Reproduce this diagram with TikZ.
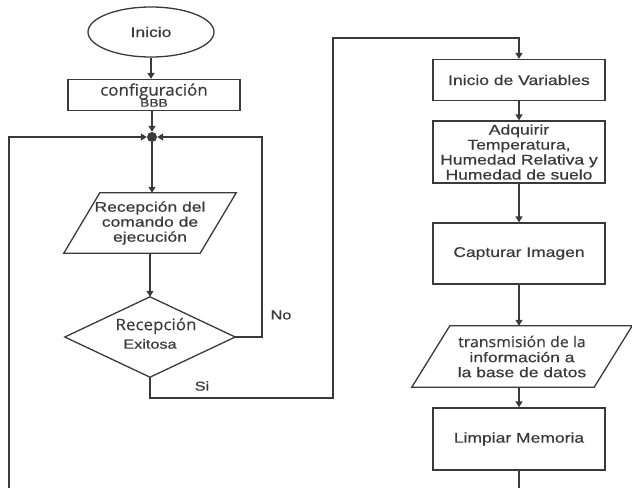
\documentclass[tikz,border=0pt]{standalone}
\usepackage{fontspec}
\setmainfont{Liberation Sans}[FakeStretch=1.25,FakeBold=0.6]
\newfontfamily\osans{Open Sans}[FakeStretch=1.06,FakeBold=0.3]
\usetikzlibrary{arrows.meta,calc,shapes.geometric}
\definecolor{ln}{HTML}{3A3A3A}
\definecolor{tx}{HTML}{3A3A3A}
\begin{document}
\begin{tikzpicture}[x=1pt,y=-1pt,
  every node/.style={text=tx, align=center, font=\fontsize{14}{15}\selectfont},
  boxn/.style={draw=ln, line width=1.3pt, minimum width=172pt, inner sep=0pt},
  ghost/.style={inner sep=0pt},
  wire/.style={draw=ln, line width=1.3pt},
  arr/.style={wire, -{Triangle[width=7pt,length=6pt]}},
  lbl/.style={font=\fontsize{13}{14}\selectfont}]
\useasboundingbox (0,0) rectangle (632,488);
% left column
\node[draw=ln, line width=1.3pt, ellipse, minimum width=126pt, minimum height=50pt, inner sep=0pt] (ini) at (151,32) {Inicio};
\node[boxn, minimum height=31pt] (cfg) at (154,95) {{\osans\fontsize{16}{13}\selectfont configuración}\\[-4pt]{\fontsize{11}{10}\selectfont BBB}};
\node[circle, fill=ln, minimum size=10pt, inner sep=0pt] (dot) at (152,137) {};
\node[ghost, minimum width=136pt, minimum height=60pt] (cmd) at (150,223) {Recepción del\\comando de\\ejecución};
\draw[wire] ($(cmd.north west)+(18,0)$) -- ($(cmd.north east)+(18,0)$) -- ($(cmd.south east)+(-18,0)$) -- ($(cmd.south west)+(-18,0)$) -- cycle;
\node[ghost, minimum width=170pt, minimum height=80pt] (dec) at (150,337) {};
\draw[wire] (dec.north) -- (dec.east) -- (dec.south) -- (dec.west) -- cycle;
\node[inner sep=0pt] (decA) at (156,326) {\osans\fontsize{16}{16}\selectfont Recepción};
\node[inner sep=0pt] (decB) at (150,344) {\fontsize{13}{13}\selectfont Exitosa};
% right column
\node[boxn, minimum height=41pt] (v1) at (519,80) {Inicio de Variables};
\node[boxn, minimum height=62pt] (v2) at (519,152) {Adquirir\\Temperatura,\\Humedad Relativa y\\Humedad de suelo};
\node[boxn, minimum height=61pt] (v3) at (519,253.5) {Capturar Imagen};
\node[ghost, minimum width=182pt, minimum height=61pt] (v4) at (522,356.5) {\osans\fontsize{15}{15}\selectfont transmisión de la\\información  a\\la base de datos};
\draw[wire] ($(v4.north west)+(19,0)$) -- ($(v4.north east)+(19,0)$) -- ($(v4.south east)+(-19,0)$) -- ($(v4.south west)+(-19,0)$) -- cycle;
\node[boxn, minimum height=62pt] (v5) at (519,439) {Limpiar Memoria};
% helper coordinates
\coordinate (lb) at (9,488);
\coordinate (rt) at (262,137);
\coordinate (s1) at (333,398);
\coordinate (s2) at (333,38);
\coordinate (eb) at (519,488);
% connectors
\draw[arr] (ini.south) -- (ini.south |- cfg.north);
\draw[arr] (cfg.south -| dot) -- (dot.north);
\draw[arr] (dot.south) -- (dot.south |- cmd.north);
\draw[arr] (cmd.south) -- (dec.north);
\draw[arr] (lb) |- (dot.west);
\draw[arr] (dec.east) -| (rt) -- (dot.east);
\draw[arr] (dec.south) |- (s1) -- (s2) -| (v1.north);
\draw[arr] (v1.south) -- (v2.north);
\draw[arr] (v2.south) -- (v3.north);
\draw[arr] (v3.south) -- (v3.south |- v4.north);
\draw[arr] (v3.south |- v4.south) -- (v5.north);
\draw[wire] (v5.south) -- (eb);
% labels
\node[lbl] (no) at (281,315) {No};
\node[lbl] (si) at (202,386) {Si};
\end{tikzpicture}
\end{document}
